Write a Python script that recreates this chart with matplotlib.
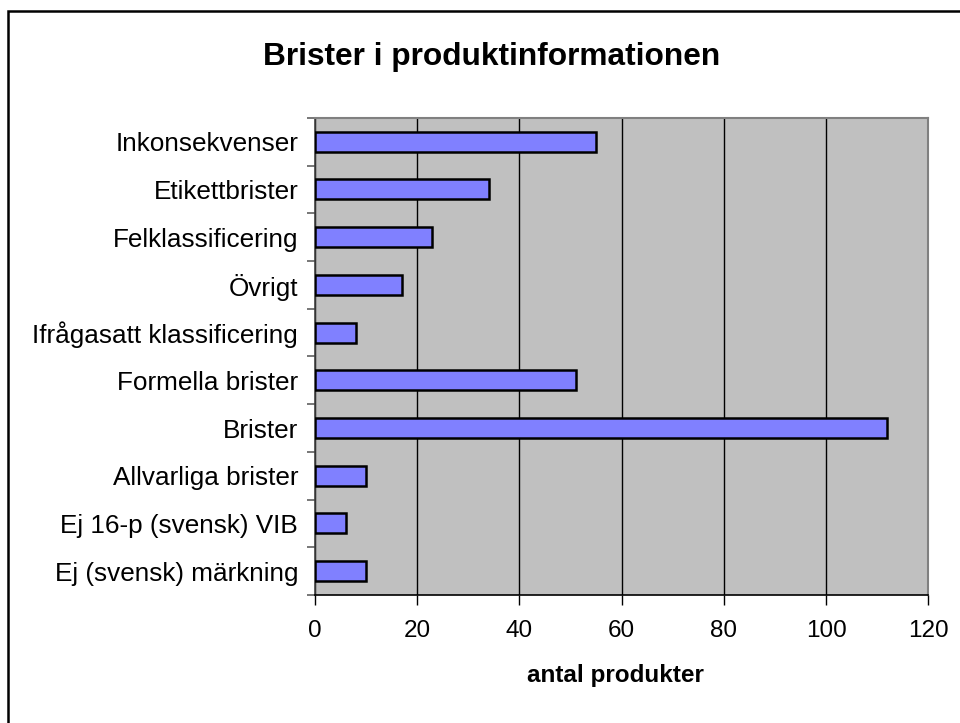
import numpy as np
import matplotlib.pyplot as plt
from matplotlib.patches import Rectangle

plt.rcParams["font.family"] = ["Liberation Sans", "DejaVu Sans"]

categories = [
    "Inkonsekvenser",
    "Etikettbrister",
    "Felklassificering",
    "Övrigt",
    "Ifrågasatt klassificering",
    "Formella brister",
    "Brister",
    "Allvarliga brister",
    "Ej 16-p (svensk) VIB",
    "Ej (svensk) märkning",
]
values = [55, 34, 23, 17, 8, 51, 112, 10, 6, 10]
xticks = [0, 20, 40, 60, 80, 100, 120]


def main():
    fig = plt.figure(figsize=(9.6, 7.23), dpi=100)
    ax = fig.add_axes([0.328, 0.177, 0.639, 0.66])

    n = len(categories)
    y = np.arange(n)[::-1]
    ax.set_facecolor("#C0C0C0")
    ax.barh(y, values, height=0.42, color="#8080FF", edgecolor="black",
            linewidth=1.8, zorder=3)

    ax.set_xlim(0, 120)
    ax.set_ylim(-0.5, n - 0.5)
    ax.set_xticks(xticks)
    ax.set_xticklabels([str(t) for t in xticks], fontsize=17.5)
    ax.grid(axis="x", color="black", linewidth=1.0, zorder=1)

    ax.set_yticks(y)
    ax.set_yticklabels(categories, fontsize=18.8)
    ax.tick_params(axis="y", which="major", length=0, pad=12)
    ax.set_yticks(np.arange(-0.5, n, 1.0), minor=True)
    ax.tick_params(axis="y", which="minor", length=6, width=1.2,
                   color="#606060", direction="out")
    ax.tick_params(axis="x", length=7, width=1.0, color="black", pad=11)

    for side in ["top", "right"]:
        ax.spines[side].set_color("#808080")
        ax.spines[side].set_linewidth(1.5)
    ax.spines["left"].set_color("#404040")
    ax.spines["left"].set_linewidth(1.2)
    ax.spines["bottom"].set_color("black")
    ax.spines["bottom"].set_linewidth(1.2)

    fig.text(0.641, 0.066, "antal produkter", ha="center", va="center",
             fontsize=17.5, fontweight="bold")
    fig.text(0.512, 0.921, "Brister i produktinformationen", ha="center",
             va="center", fontsize=22.8, fontweight="bold")

    # chart frame, cut off at the right and bottom like the source image
    fig.patches.append(Rectangle((7.5 / 960, -0.05), 1.0, 1.05 - 11.5 / 723,
                                 transform=fig.transFigure, fill=False,
                                 edgecolor="black", linewidth=1.8))

    fig.savefig("out.png", dpi=100)


if __name__ == "__main__":
    main()
